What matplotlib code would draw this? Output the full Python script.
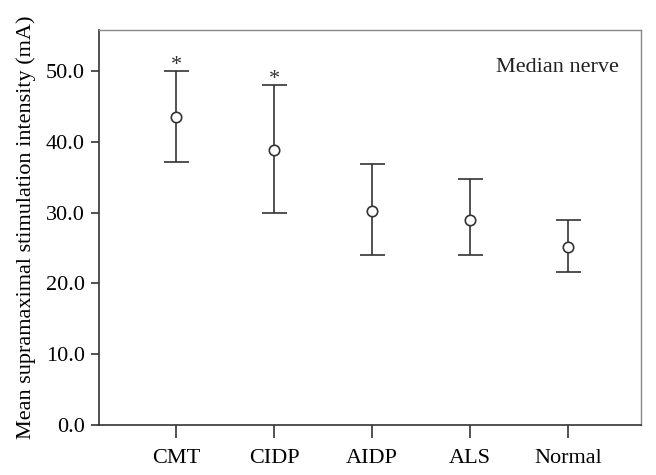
import matplotlib.pyplot as plt

plt.rcParams['font.family'] = ['Liberation Serif', 'DejaVu Serif']

groups = ['CMT', 'CIDP', 'AIDP', 'ALS', 'Normal']
means = [43.5, 38.9, 30.3, 29.0, 25.2]
upper = [50.0, 48.0, 36.8, 34.7, 28.9]
lower = [37.2, 30.0, 24.0, 24.0, 21.6]
signif = [True, True, False, False, False]

x = list(range(1, len(groups) + 1))
err_lo = [m - l for m, l in zip(means, lower)]
err_hi = [u - m for m, u in zip(means, upper)]

fig = plt.figure(figsize=(6.56, 4.75), dpi=100)
ax = fig.add_axes([99/656, 50/475, 542/656, 395/475])

ax.errorbar(x, means, yerr=[err_lo, err_hi], fmt='o', mfc='white', mec='#333333',
            ms=7.5, mew=1.2, ecolor='#333333', elinewidth=1.2, capsize=9, capthick=1.2)

# significance stars
for xi, u, s in zip(x, upper, signif):
    if s:
        ax.text(xi, u - 0.5, '*', ha='center', va='bottom', fontsize=16, color='#333333')

ax.text(0.96, 0.905, 'Median nerve', transform=ax.transAxes, ha='right', va='center',
        fontsize=16, color='#222222')

ax.set_xlim(0.21, 5.745)
ax.set_ylim(0, 55.8)
ax.set_yticks([0, 10, 20, 30, 40, 50])
ax.set_yticklabels(['%.1f' % v for v in [0, 10, 20, 30, 40, 50]], fontsize=16)
ax.set_xticks(x)
ax.set_xticklabels(groups, fontsize=16)
ax.set_ylabel('Mean supramaximal stimulation intensity (mA)', fontsize=16, labelpad=7)

for side in ['left', 'bottom']:
    ax.spines[side].set_color('#333333')
    ax.spines[side].set_linewidth(1.2)
for side in ['top', 'right']:
    ax.spines[side].set_color('#888888')
    ax.spines[side].set_linewidth(1.0)
ax.tick_params(axis='y', direction='out', length=6, width=1.2, color='#333333', pad=4)
ax.tick_params(axis='x', direction='out', length=9, width=1.2, color='#333333', pad=8)

fig.savefig('out.png', dpi=100)
